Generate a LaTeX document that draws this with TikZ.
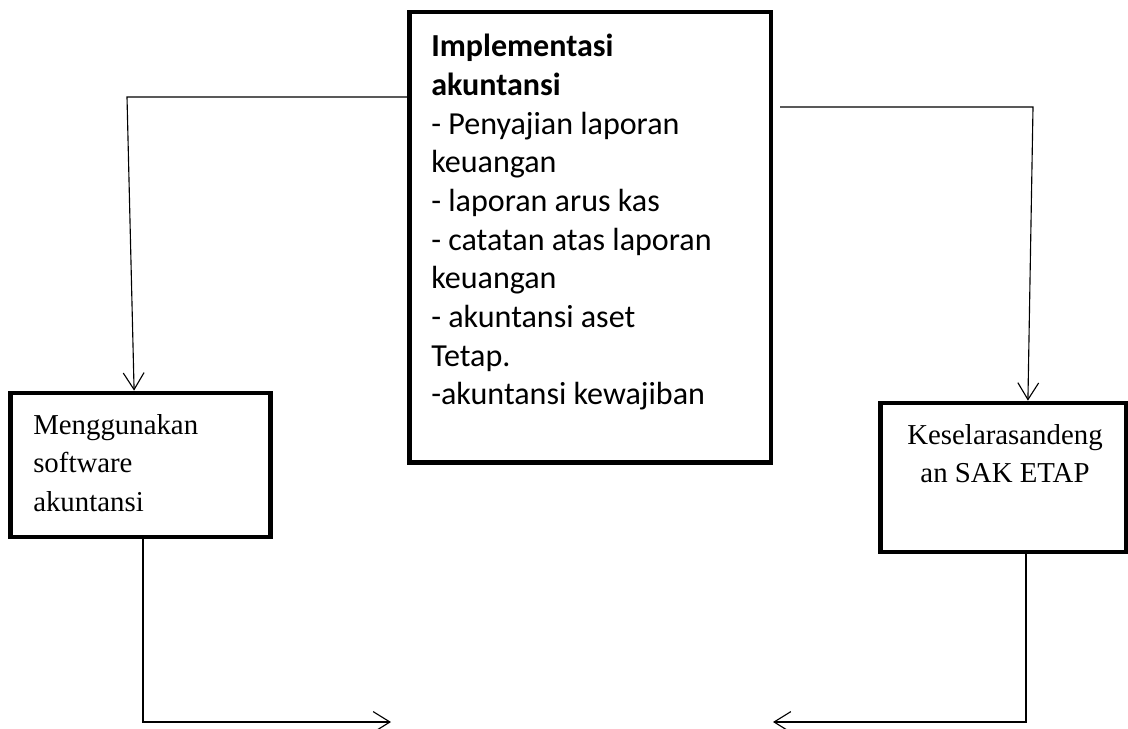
\documentclass[tikz,border=0pt]{standalone}
\usepackage{fontspec}
\setmainfont{Liberation Serif}
\newfontfamily\calfont{Carlito}
\usetikzlibrary{positioning,arrows.meta}
\tikzset{
  box/.style={rectangle, draw=black, line width=3.3pt, inner sep=0pt},
  boxtxt/.style={inner sep=0pt, align=left, font=\fontsize{20.5}{27.3}\selectfont},
  listtxt/.style={inner sep=0pt, align=left, font=\calfont\fontsize{22.8}{27.5}\selectfont},
  flow/.style={-{Straight Barb[length=4.2mm, width=5.2mm]}, line width=0.8pt},
}

\begin{document}
\begin{tikzpicture}[x=0.025cm, y=-0.025cm]
  \useasboundingbox (0,0) rectangle (1128,728);
  % boxes
  \node[box, minimum width=9.04cm, minimum height=11.26cm] (impl) at (590.25,237.25) {};
  \node[box, minimum width=6.5cm, minimum height=3.6cm] (soft) at (140.5,465) {};
  \node[box, minimum width=6.15cm, minimum height=3.725cm] (sak) at (1003.5,477.5) {};
  % texts
  \node[listtxt, anchor=north west] (impltxt) at (431,34) {%
    \textbf{Implementasi}\\ \textbf{akuntansi}\\ - Penyajian laporan\\ keuangan\\
    - laporan arus kas\\ - catatan atas laporan\\ keuangan\\ - akuntansi aset\\
    Tetap.\\ -akuntansi kewajiban};
  \node[boxtxt, anchor=north west] (softtxt) at (33,414) {Menggunakan\\ software\\ akuntansi};
  \node[boxtxt, align=center, anchor=north] (saktxt) at (1005,424) {Keselarasandeng\\ an SAK ETAP};
  % connectors
  \coordinate (lknee) at (127,97);
  \coordinate (rknee) at (1033,107);
  \coordinate (lbot) at (143,722);
  \coordinate (rbot) at (1026,722);
  \coordinate (lend) at (391,722);
  \coordinate (rend) at (773,722);
  \draw[flow] (impl.west |- lknee) -- (lknee) -- ([xshift=-0.16cm]soft.north);
  \draw[flow, shorten <=0.17cm] (impl.east |- rknee) -- (rknee) -- ([xshift=0.61cm]sak.north);
  \draw[flow] (soft.south -| lbot) -- (lbot) -- (lend);
  \draw[flow] (sak.south -| rbot) -- (rbot) -- (rend);
\end{tikzpicture}
\end{document}
